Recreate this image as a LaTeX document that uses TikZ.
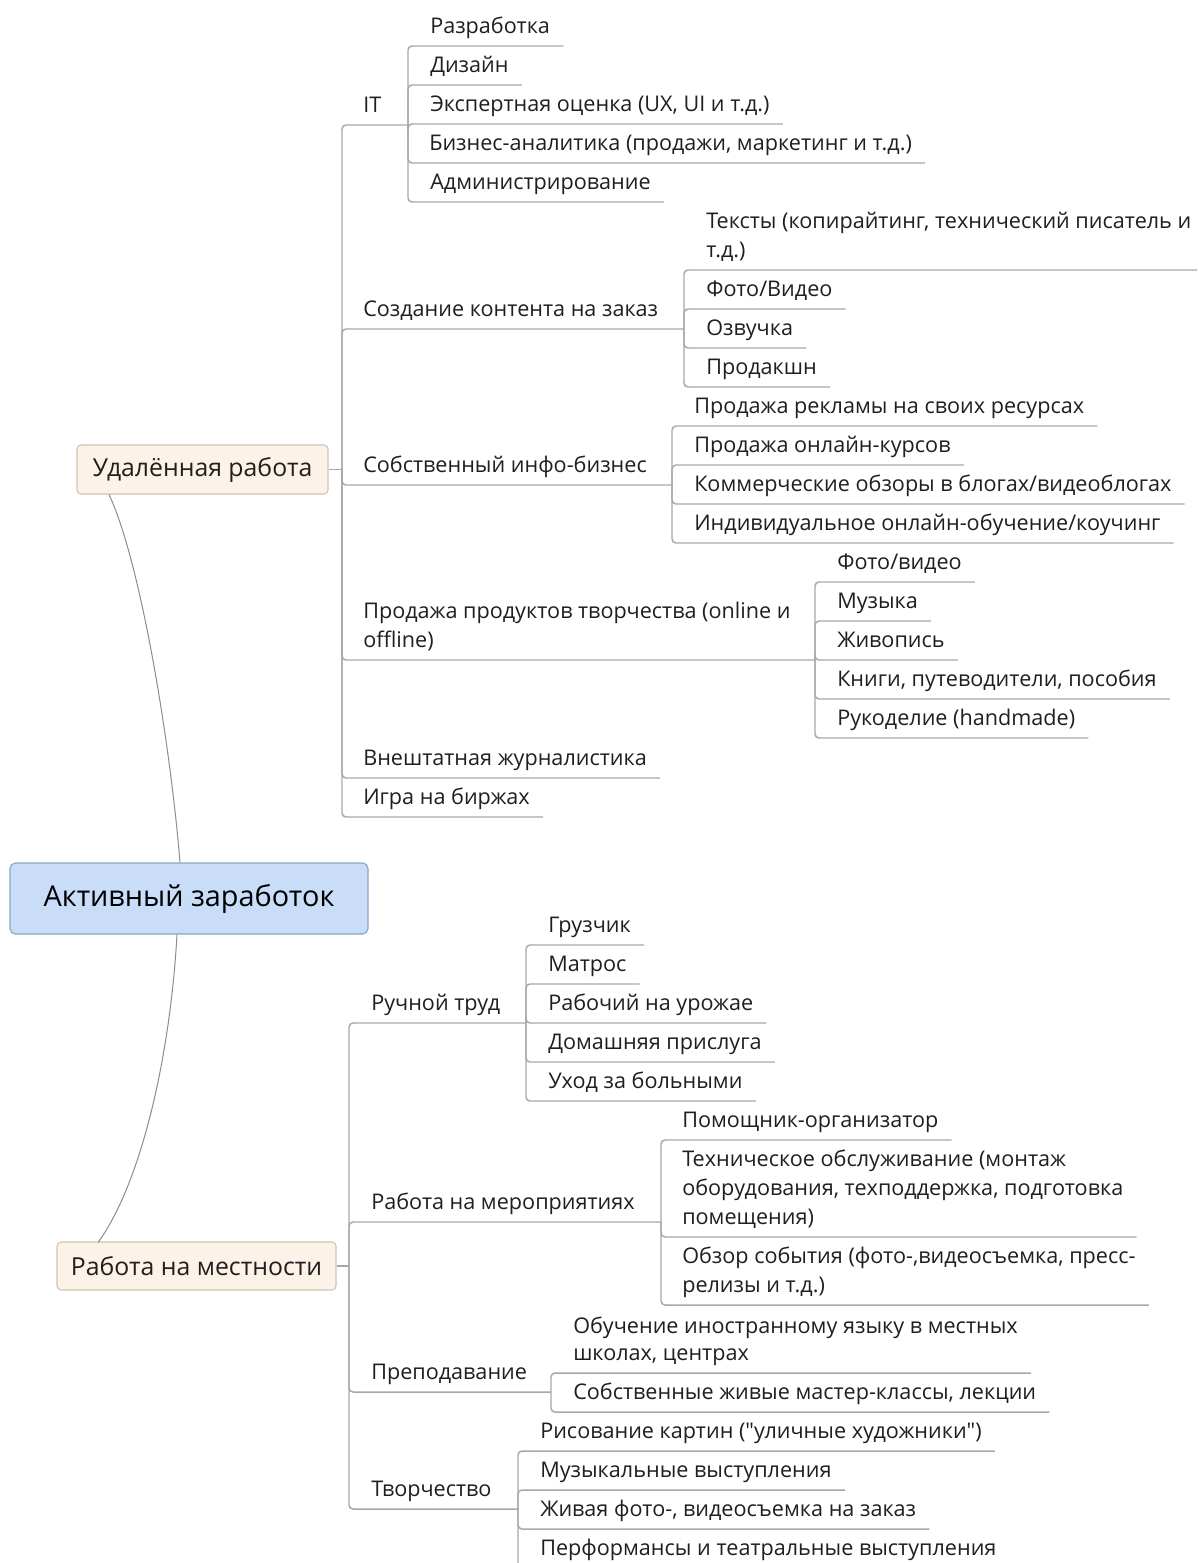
\documentclass[tikz,border=0pt]{standalone}
\usepackage{fontspec}
\setmainfont{Open Sans}[Ligatures=TeXOff]
\usetikzlibrary{calc}
\definecolor{linec}{HTML}{A8A8A8}
\definecolor{curvec}{HTML}{8C8C8C}
\definecolor{mainf}{HTML}{FDF2E8}
\definecolor{mainb}{HTML}{CFC4B8}
\definecolor{rootf}{HTML}{C9DDF9}
\definecolor{rootb}{HTML}{8EA3C3}
\definecolor{txt}{HTML}{1F1F1F}
\newcommand\leafsz{\fontsize{16.2}{21.75}\selectfont}
\newcommand\topsz{\fontsize{18.6}{22}\selectfont}
\newcommand\rootsz{\fontsize{21.6}{25}\selectfont}
\tikzset{
  br/.style={draw=linec, line width=1.1pt, rounded corners=3pt},
  curvebr/.style={draw=curvec, line width=0.75pt},
  leaf/.style={anchor=south west, inner xsep=9.75pt, inner ysep=0pt, text depth=9pt, align=left, font=\leafsz, text=txt},
  maintopic/.style={draw=mainb, fill=mainf, rounded corners=3pt, line width=0.8pt, font=\topsz, text=txt, inner sep=0pt},
  roottopic/.style={draw=rootb, fill=rootf, rounded corners=4pt, line width=0.8pt, font=\rootsz, text=black, inner sep=0pt},
}
\begin{document}
\begin{tikzpicture}[x=0.75pt, y=-0.75pt]
\useasboundingbox (0,0) rectangle (1197,1563);
\clip (0,0) rectangle (1197,1563);
\fill[white] (0,0) rectangle (1197,1563);

% main topics
\node[roottopic, minimum width=268.5pt, minimum height=53.25pt] (root) at (189,898.5) {Активный заработок};
\node[maintopic, minimum width=188.25pt, minimum height=36.75pt] (rem) at (202.5,469.5) {Удалённая работа};
\node[maintopic, minimum width=209.25pt, minimum height=36pt] (loc) at (196.5,1266) {Работа на местности};

\draw[curvebr] ($(root.north)+(-9,0)$) .. controls (170,740) and (140,560) .. ($(rem.south)+(-93.5,0)$);
\draw[curvebr] ($(root.south)+(-12,0)$) .. controls (170,1060) and (140,1185) .. ($(loc.south)+(-98.5,-48)$);

% junctions
\coordinate (uj) at (342,469.5);
\coordinate (itj) at (408,125);
\coordinate (ccj) at (684,329);
\coordinate (ibj) at (672,485);
\coordinate (ppj) at (815,660);
\coordinate (lj) at (349,1266);
\coordinate (rtj) at (526,1023);
\coordinate (rmj) at (661,1222);
\coordinate (prj) at (551,1392);
\coordinate (tvj) at (518,1509);

% level 1 (upper)
\node[leaf] (it) at (350,125) {IT};
\node[leaf] (cc) at (350,329) {Создание контента на заказ};
\node[leaf] (ib) at (350,485) {Собственный инфо-бизнес};
\node[leaf] (pp) at (350,660) {Продажа продуктов творчества (online и\\offline)};
\node[leaf] (vj) at (350,778) {Внештатная журналистика};
\node[leaf] (ig) at (350,817) {Игра на биржах};

\draw[br] (rem.east) -- (uj);
\draw[br] (uj) |- (it.south west) -- (itj);
\draw[br] (uj) |- (cc.south west) -- (ccj);
\draw[br] (uj) |- (ib.south west) -- (ibj);
\draw[br] (uj) |- (pp.south west) -- (ppj);
\draw[br] (uj) |- (vj.south east);
\draw[br] (uj) |- (ig.south east);

% IT
\node[leaf] (a1) at (417,46) {Разработка};
\node[leaf] (a2) at (417,85) {Дизайн};
\node[leaf] (a3) at (417,124) {Экспертная оценка (UX, UI и т.д.)};
\node[leaf] (a4) at (416,163) {Бизнес-аналитика (продажи, маркетинг и т.д.)};
\node[leaf] (a5) at (417,202) {Администрирование};
\foreach \n in {a1,a2,a3,a4,a5} \draw[br] (itj) |- (\n.south east);

% content
\node[leaf] (b1) at (693,270) {Тексты (копирайтинг, технический писатель и\\т.д.)};
\node[leaf] (b2) at (693,309) {Фото/Видео};
\node[leaf] (b3) at (693,348) {Озвучка};
\node[leaf] (b4) at (693,387) {Продакшн};
\foreach \n in {b1,b2,b3,b4} \draw[br] (ccj) |- (\n.south east);

% info business
\node[leaf] (c1) at (681,426) {Продажа рекламы на своих ресурсах};
\node[leaf] (c2) at (681,465) {Продажа онлайн-курсов};
\node[leaf] (c3) at (681,504) {Коммерческие обзоры в блогах/видеоблогах};
\node[leaf] (c4) at (681,543) {Индивидуальное онлайн-обучение/коучинг};
\foreach \n in {c1,c2,c3,c4} \draw[br] (ibj) |- (\n.south east);

% creative products
\node[leaf] (d1) at (824,582) {Фото/видео};
\node[leaf] (d2) at (824,621) {Музыка};
\node[leaf] (d3) at (824,660) {Живопись};
\node[leaf] (d4) at (824,699) {Книги, путеводители, пособия};
\node[leaf] (d5) at (824,738) {Рукоделие (handmade)};
\foreach \n in {d1,d2,d3,d4,d5} \draw[br] (ppj) |- (\n.south east);

% level 1 (lower)
\node[leaf] (rt) at (358,1023) {Ручной труд};
\node[leaf] (rm) at (358,1222) {Работа на мероприятиях};
\node[leaf] (pr) at (358,1392) {Преподавание};
\node[leaf] (tv) at (358,1509) {Творчество};

\draw[br] (loc.east) -- (lj);
\draw[br] (lj) |- (rt.south west) -- (rtj);
\draw[br] (lj) |- (rm.south west) -- (rmj);
\draw[br] (lj) |- (pr.south west) -- (prj);
\draw[br] (lj) |- (tv.south west) -- (tvj);

% manual labour
\node[leaf] (e1) at (535,945) {Грузчик};
\node[leaf] (e2) at (535,984) {Матрос};
\node[leaf] (e3) at (535,1023) {Рабочий на урожае};
\node[leaf] (e4) at (535,1062) {Домашняя прислуга};
\node[leaf] (e5) at (535,1101) {Уход за больными};
\foreach \n in {e1,e2,e3,e4,e5} \draw[br] (rtj) |- (\n.south east);

% events
\node[leaf] (f1) at (669,1140) {Помощник-организатор};
\node[leaf] (f2) at (669,1237) {Техническое обслуживание (монтаж\\оборудования, техподдержка, подготовка\\помещения)};
\node[leaf] (f3) at (669,1305) {Обзор события (фото-,видеосъемка, пресс-\\релизы и т.д.)};
\foreach \n in {f1,f2,f3} \draw[br] (rmj) |- (\n.south east);

% teaching
\node[leaf, font=\fontsize{16.2}{20.25}\selectfont] (g1) at (560,1373) {Обучение иностранному языку в местных\\школах, центрах};
\node[leaf] (g2) at (560,1412) {Собственные живые мастер-классы, лекции};
\foreach \n in {g1,g2} \draw[br] (prj) |- (\n.south east);

% creativity
\node[leaf] (h1) at (527,1451) {Рисование картин ("уличные художники")};
\node[leaf] (h2) at (527,1490) {Музыкальные выступления};
\node[leaf] (h3) at (527,1529) {Живая фото-, видеосъемка на заказ};
\node[leaf] (h4) at (527,1568) {Перформансы и театральные выступления};
\foreach \n in {h1,h2,h3,h4} \draw[br] (tvj) |- (\n.south east);
\end{tikzpicture}
\end{document}
